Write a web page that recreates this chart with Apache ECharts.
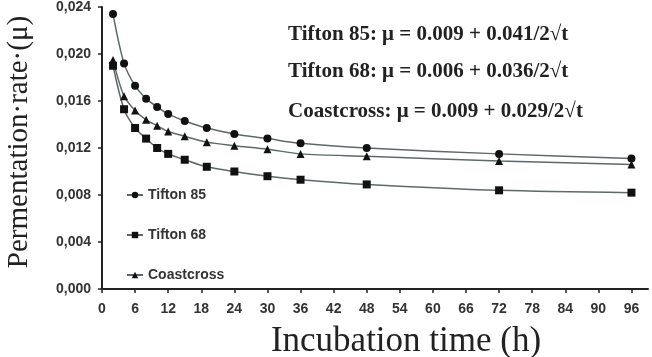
<!DOCTYPE html>
<html>
<head>
<meta charset="utf-8">
<script src="https://cdn.jsdelivr.net/npm/echarts@6/dist/echarts.min.js"></script>
<style>
  html, body { margin: 0; padding: 0; background: #fff; }
  #chart { width: 652px; height: 357px; }
</style>
</head>
<body>
<div id="chart"></div>
<script>
// incubation times (h)
var hours = [2, 4, 6, 8, 10, 12, 15, 19, 24, 30, 36, 48, 72, 96];

var tifton85   = [0.0234, 0.0192, 0.0173, 0.0162, 0.0155, 0.0149, 0.0143, 0.0137, 0.0132, 0.0128, 0.0124, 0.0120, 0.0115, 0.0111];
var tifton68   = [0.0190, 0.0153, 0.0137, 0.0128, 0.0120, 0.0115, 0.0110, 0.0104, 0.0100, 0.0096, 0.0093, 0.0089, 0.0084, 0.0082];
var coastcross = [0.0195, 0.0164, 0.0152, 0.0144, 0.0139, 0.0134, 0.0130, 0.0125, 0.0122, 0.0119, 0.0115, 0.0113, 0.0109, 0.0106];

var seriesNames = ['Tifton 85', 'Tifton 68', 'Coastcross'];
var equations = [
    'Tifton 85: μ = 0.009 + 0.041/2√t',
    'Tifton 68: μ = 0.006 + 0.036/2√t',
    'Coastcross: μ = 0.009 + 0.029/2√t'
];

function pairs(vals) {
    var out = [];
    for (var i = 0; i < hours.length; i++) {
        out.push([hours[i], vals[i]]);
    }
    return out;
}

var chart = echarts.init(document.getElementById('chart'));

var lineColor = '#5d6968';
var tickFont = { fontFamily: 'Liberation Sans', fontWeight: 'bold', fontSize: 14, color: '#333' };
var eqFont = 'bold 21px "Liberation Serif"';

function makeSeries(name, vals, symbol, size) {
    return {
        name: name,
        type: 'line',
        smooth: 0.3,
        symbol: symbol,
        symbolSize: size,
        lineStyle: { color: lineColor, width: 1.5 },
        itemStyle: { color: '#111', borderWidth: 0 },
        data: pairs(vals)
    };
}

var option = {
    backgroundColor: '#fff',
    animation: false,
    grid: { left: 102, right: 4, top: 7, bottom: 68 },
    legend: {
        orient: 'vertical',
        left: 121,
        top: 183,
        itemGap: 26,
        itemWidth: 16,
        itemHeight: 8,
        textStyle: tickFont,
        data: seriesNames
    },
    xAxis: {
        type: 'value',
        min: 0,
        max: 99,
        interval: 6,
        splitLine: { show: false },
        axisLine: { lineStyle: { color: '#222', width: 2 } },
        axisTick: { length: 4, lineStyle: { color: '#222', width: 1.5 } },
        axisLabel: Object.assign({ margin: 13, showMaxLabel: false }, tickFont)
    },
    yAxis: {
        type: 'value',
        min: 0,
        max: 0.024,
        interval: 0.004,
        splitLine: { show: false },
        axisLine: { show: true, lineStyle: { color: '#222', width: 2 } },
        axisTick: { show: true, length: 4, lineStyle: { color: '#222', width: 1.5 } },
        axisLabel: Object.assign({
            margin: 11,
            formatter: function (v) { return v.toFixed(3).replace('.', ','); }
        }, tickFont)
    },
    graphic: [
        {
            type: 'text', x: 288, y: 35,
            style: { text: equations[0], font: eqFont, fill: '#222', verticalAlign: 'middle' }
        },
        {
            type: 'text', x: 288, y: 72,
            style: { text: equations[1], font: eqFont, fill: '#222', verticalAlign: 'middle' }
        },
        {
            type: 'text', x: 288, y: 112,
            style: { text: equations[2], font: eqFont, fill: '#222', verticalAlign: 'middle' }
        },
        {
            type: 'text', x: 406, y: 342,
            style: { text: 'Incubation time (h)', font: '35px "Liberation Serif"', fill: '#222', align: 'center', verticalAlign: 'middle' }
        },
        {
            type: 'text', x: 19, y: 142, rotation: Math.PI / 2,
            style: { text: 'Permentation·rate·(μ)', font: '29px "Liberation Serif"', fill: '#222', align: 'center', verticalAlign: 'middle' }
        }
    ],
    series: [
        makeSeries(seriesNames[0], tifton85, 'circle', 8),
        makeSeries(seriesNames[1], tifton68, 'rect', 8),
        makeSeries(seriesNames[2], coastcross, 'triangle', 8)
    ]
};

chart.setOption(option);
window.onresize = function () { chart.resize(); };
</script>
</body>
</html>
